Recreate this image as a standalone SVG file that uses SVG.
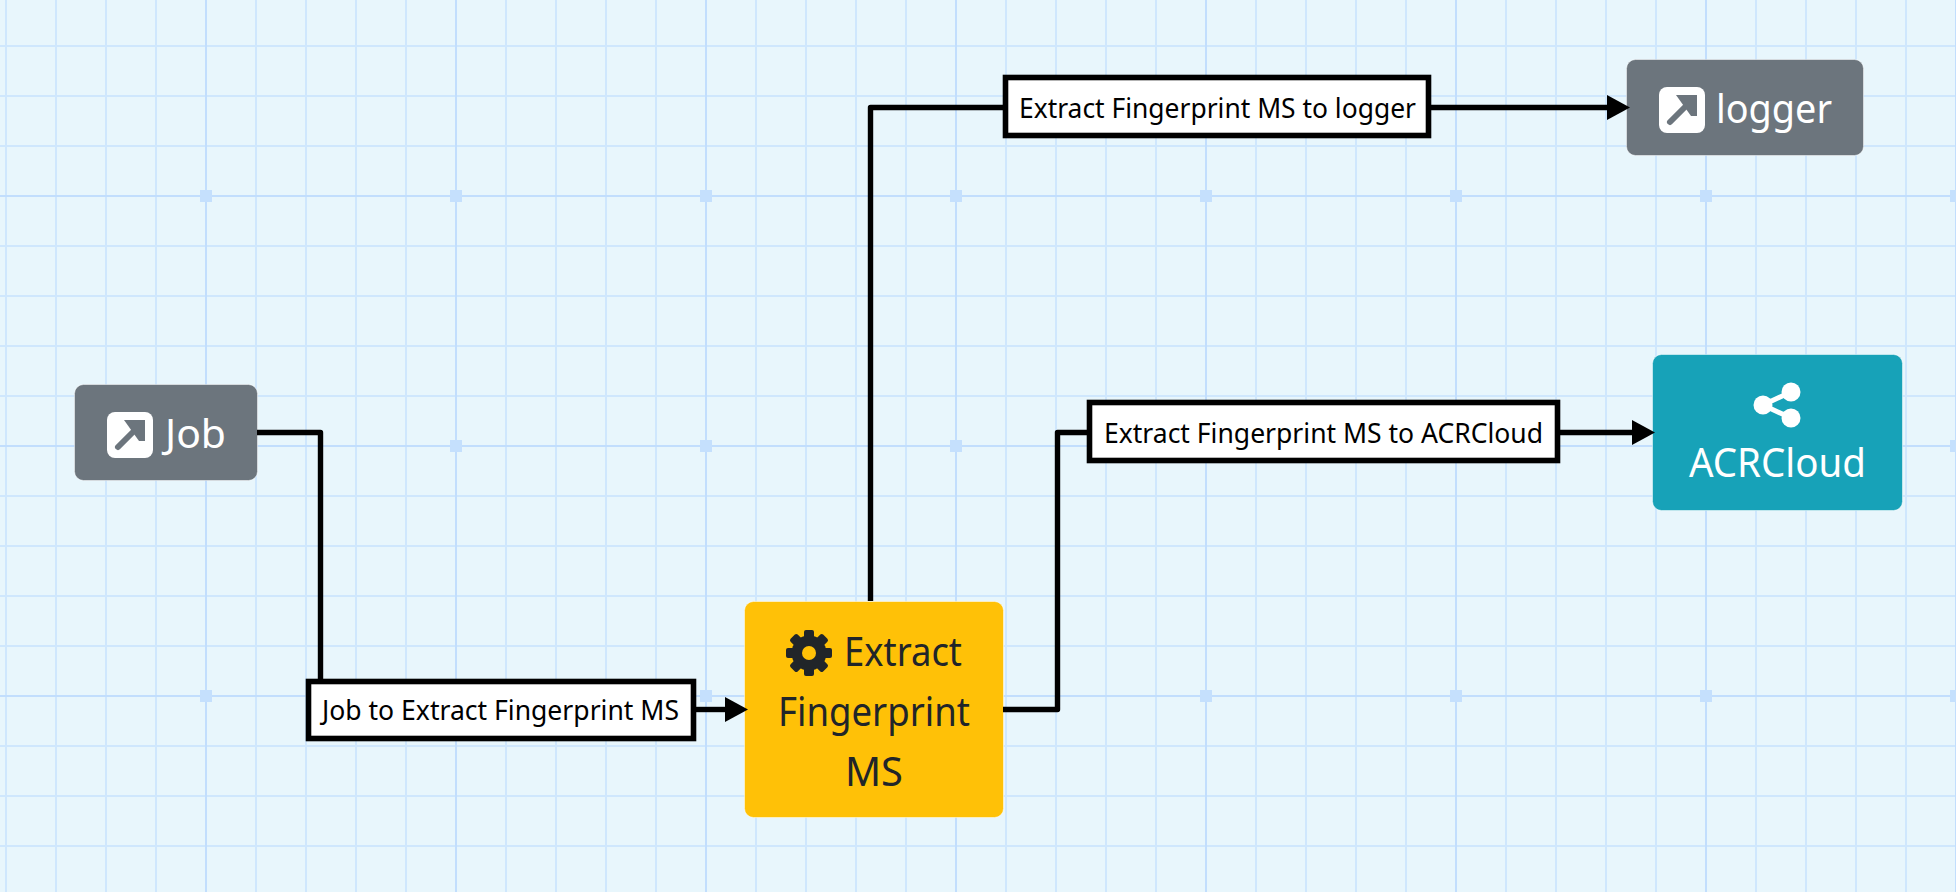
<svg xmlns="http://www.w3.org/2000/svg" width="1956" height="892" viewBox="0 0 1956 892">
<defs>
<style>
.t{font-family:"Noto Sans","Open Sans","Liberation Sans",sans-serif}
.n{font-size:40px}
.w{fill:#fff}
.d{fill:#212529}
.l{font-size:27px;fill:#000}
.box{fill:#fff;stroke:#000;stroke-width:5.600}
.c{fill:none;stroke:#000;stroke-width:5.400;stroke-linejoin:round}
.edge{stroke:#fff;stroke-opacity:.5;stroke-width:1}
</style>
<pattern id="thin" width="50" height="50" patternUnits="userSpaceOnUse"><rect x="5" width="2" height="50" fill="#cfe7fd"/><rect y="45" width="50" height="2" fill="#cfe7fd"/></pattern>
<pattern id="strong" width="250" height="250" patternUnits="userSpaceOnUse"><rect x="205" width="2" height="250" fill="#c2defd"/><rect y="195" width="250" height="2" fill="#c2defd"/><rect x="200" y="190" width="12" height="12" fill="#c5e0fd"/></pattern>
<marker id="arrow" markerUnits="userSpaceOnUse" viewBox="0 0 23 25" markerWidth="23" markerHeight="25" refX="1" refY="12.5" orient="auto"><polygon points="0,0 23,12.5 0,25" fill="#000"/></marker>
<symbol id="extlink" viewBox="0 0 46 46"><rect width="46" height="46" rx="8" fill="#fff"/><path d="M11 35 L33 13" fill="none" stroke="#6c757d" stroke-width="6" stroke-linecap="round"/><path d="M17 8 H38 V29 H32 Z" fill="#6c757d"/></symbol>
</defs>
<rect width="1956" height="892" fill="#e8f6fc"/>
<rect width="1956" height="892" fill="url(#thin)"/>
<rect width="1956" height="892" fill="url(#strong)"/>
<g id="node-job"><rect class="edge" x="74.500" y="384.500" width="183" height="96" rx="9" fill="#6c757d"/><use href="#extlink" x="107" y="412" width="46" height="46"/><text class="t n w" x="165" y="448" textLength="61" lengthAdjust="spacingAndGlyphs">Job</text></g>
<g id="node-logger"><rect class="edge" x="1626.500" y="59.500" width="237" height="96" rx="9" fill="#6c757d"/><use href="#extlink" x="1659" y="87" width="46" height="46"/><text class="t n w" x="1716" y="123" textLength="116" lengthAdjust="spacingAndGlyphs">logger</text></g>
<g id="node-acrcloud"><rect class="edge" x="1652.500" y="354.500" width="250" height="156" rx="9" fill="#17a2b8"/>
<path d="M1791 392 L1763 405 L1791 418" fill="none" stroke="#fff" stroke-width="5"/><circle class="w" cx="1791" cy="392" r="9.500"/><circle class="w" cx="1791" cy="418" r="9.500"/><circle class="w" cx="1763" cy="405" r="9.500"/>
<text class="t n w" x="1689" y="477" textLength="177" lengthAdjust="spacingAndGlyphs">ACRCloud</text></g>
<g id="node-extract"><rect class="edge" x="744.500" y="601.500" width="259" height="216" rx="9" fill="#ffc107"/>
<g transform="translate(809 653)"><circle r="17.500" class="d"/><g class="d"><rect x="-5" y="-23" width="10" height="46" rx="2"/><rect x="-5" y="-23" width="10" height="46" rx="2" transform="rotate(45)"/><rect x="-5" y="-23" width="10" height="46" rx="2" transform="rotate(90)"/><rect x="-5" y="-23" width="10" height="46" rx="2" transform="rotate(135)"/></g><circle r="7" fill="#ffc107"/></g>
<text class="t n d" x="844" y="666" textLength="118" lengthAdjust="spacingAndGlyphs">Extract</text>
<text class="t n d" x="778" y="726" textLength="192" lengthAdjust="spacingAndGlyphs">Fingerprint</text>
<text class="t n d" x="845" y="786" textLength="58" lengthAdjust="spacingAndGlyphs">MS</text></g>
<g id="connectors">
<path class="c" d="M257 432.500 H320.500 V680"/>
<path class="c" d="M696 709.500 H726" marker-end="url(#arrow)"/>
<path class="c" d="M870.500 601 V107.500 H1005"/>
<path class="c" d="M1430 107.500 H1608" marker-end="url(#arrow)"/>
<path class="c" d="M1003 709.500 H1057.500 V432.500 H1090"/>
<path class="c" d="M1558 432.500 H1633" marker-end="url(#arrow)"/>
</g>
<g id="label-job-extract"><rect class="box" x="308.500" y="681.500" width="385" height="57"/><text class="t l" x="322" y="720" textLength="357" lengthAdjust="spacingAndGlyphs">Job to Extract Fingerprint MS</text></g>
<g id="label-extract-logger"><rect class="box" x="1005.500" y="77.500" width="423" height="58"/><text class="t l" x="1019" y="118" textLength="397" lengthAdjust="spacingAndGlyphs">Extract Fingerprint MS to logger</text></g>
<g id="label-extract-acr"><rect class="box" x="1089.500" y="402.500" width="468" height="58"/><text class="t l" x="1104" y="443" textLength="439" lengthAdjust="spacingAndGlyphs">Extract Fingerprint MS to ACRCloud</text></g>
</svg>
